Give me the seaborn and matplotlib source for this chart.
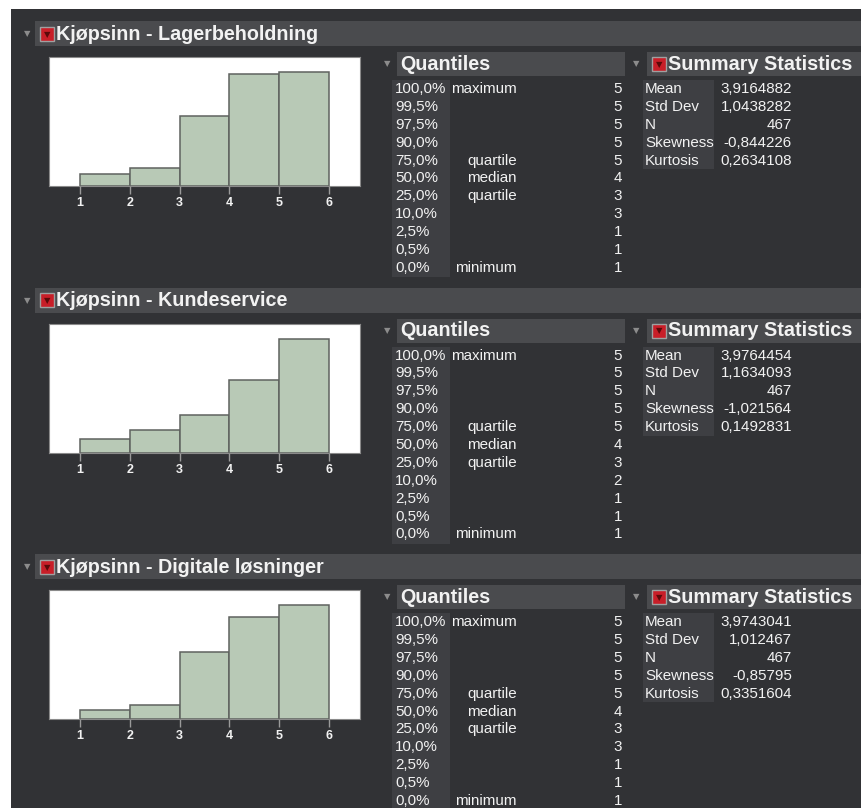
import matplotlib
matplotlib.use("Agg")
import matplotlib.pyplot as plt
from matplotlib.patches import Rectangle
import seaborn as sns
import pandas as pd

# ---------------- data ----------------
titles = ["Kjøpsinn - Lagerbeholdning", "Kjøpsinn - Kundeservice", "Kjøpsinn - Digitale løsninger"]
ratings = [1, 2, 3, 4, 5]
bin_edges = [1, 2, 3, 4, 5, 6]
counts_lager = [17, 26, 101, 160, 163]
counts_kunde = [24, 40, 68, 131, 204]
counts_digital = [14, 21, 102, 156, 174]

quantile_pcts = ["100,0%", "99,5%", "97,5%", "90,0%", "75,0%", "50,0%", "25,0%", "10,0%", "2,5%", "0,5%", "0,0%"]
quantile_names = ["maximum", "", "", "", "quartile", "median", "quartile", "", "", "", "minimum"]
quantiles_lager = [5, 5, 5, 5, 5, 4, 3, 3, 1, 1, 1]
quantiles_kunde = [5, 5, 5, 5, 5, 4, 3, 2, 1, 1, 1]
quantiles_digital = [5, 5, 5, 5, 5, 4, 3, 3, 1, 1, 1]

stat_names = ["Mean", "Std Dev", "N", "Skewness", "Kurtosis"]
stats_lager = ["3,9164882", "1,0438282", "467", "-0,844226", "0,2634108"]
stats_kunde = ["3,9764454", "1,1634093", "467", "-1,021564", "0,1492831"]
stats_digital = ["3,9743041", "1,012467", "467", "-0,85795", "0,3351604"]

all_counts = [counts_lager, counts_kunde, counts_digital]
all_quant = [quantiles_lager, quantiles_kunde, quantiles_digital]
all_stats = [stats_lager, stats_kunde, stats_digital]

# ---------------- style ----------------
sns.set_theme(style="white")
plt.rcParams["font.family"] = ["Liberation Sans", "DejaVu Sans"]

W, H = 862, 808
fig = plt.figure(figsize=(W / 100, H / 100), dpi=100)
fig.patch.set_facecolor("white")

BG = "#313235"
HDR = "#4a4b4e"
LBL = "#3e3f43"
TXT = "#f2f2f2"
TRI = "#8c8c8c"
BAR = "#b8c9b6"
HFS = 14.2   # header font size
RFS = 10.9   # row font size


def fx(x):
    return x / W


def fy(y):
    return 1 - y / H


def rect(x0, y0, x1, y1, color, z=-5, ec="none", lw=0):
    fig.patches.append(Rectangle((fx(x0), fy(y1)), (x1 - x0) / W, (y1 - y0) / H,
                                 transform=fig.transFigure, facecolor=color,
                                 edgecolor=ec, linewidth=lw, zorder=z))


def txt(x, y, s, **kw):
    kw.setdefault("color", TXT)
    kw.setdefault("va", "center")
    fig.text(fx(x), fy(y), s, zorder=5, **kw)


def icon(x, y):
    rect(x, y, x + 14, y + 14, "#c81e28", z=-1, ec="#a0a0a0", lw=1.0)
    txt(x + 7, y + 7.5, "▼", ha="center", fontsize=6, color="#5a0a0a", family="DejaVu Sans")


# dark panel
rect(11, 9, 862, 808, BG, z=-10)

ROW = 17.9
for p in range(3):
    o = 266.5 * p
    # header bar
    rect(35, 21 + o, 862, 46 + o, HDR)
    txt(27, 34 + o, "▼", ha="center", fontsize=6, color=TRI, family="DejaVu Sans")
    icon(40, 27 + o)
    txt(56, 34.5 + o, titles[p], ha="left", fontsize=HFS, fontweight="bold")

    # histogram
    ax = fig.add_axes([fx(49), fy(186 + o), (360 - 49) / W, 129 / H])
    df = pd.DataFrame({"rating": ratings, "count": all_counts[p]})
    sns.histplot(data=df, x="rating", weights="count", bins=bin_edges, ax=ax,
                 color=BAR, edgecolor="#5f625f", linewidth=1.1, alpha=1)
    ax.set_facecolor("white")
    ax.set_xlim(0.38, 6.62)
    ax.set_ylim(0, max(all_counts[p]) * 1.135)
    ax.set_xlabel("")
    ax.set_ylabel("")
    ax.set_yticks([])
    ax.set_xticks(bin_edges)
    ax.set_xticklabels([str(v) for v in bin_edges])
    ax.tick_params(axis="x", bottom=True, length=6, width=1, color="#9a9a9a",
                   pad=2, labelsize=9, labelcolor=TXT)
    for lab in ax.get_xticklabels():
        lab.set_fontweight("bold")
    for s in ax.spines.values():
        s.set_color("#8a8a8a")
        s.set_linewidth(0.8)

    # Quantiles
    txt(387, 64 + o, "▼", ha="center", fontsize=6, color=TRI, family="DejaVu Sans")
    rect(397, 52 + o, 625, 76 + o, HDR)
    txt(400, 64.5 + o, "Quantiles", ha="left", fontsize=HFS, fontweight="bold")
    rect(392, 80 + o, 450, 277 + o, LBL)
    for i in range(len(quantile_pcts)):
        y = 89 + ROW * i + o
        txt(395, y, quantile_pcts[i], ha="left", fontsize=RFS)
        if quantile_names[i]:
            txt(517, y, quantile_names[i], ha="right", fontsize=RFS)
        txt(622, y, str(all_quant[p][i]), ha="right", fontsize=RFS)

    # Summary statistics
    txt(636, 64 + o, "▼", ha="center", fontsize=6, color=TRI, family="DejaVu Sans")
    rect(647, 52 + o, 862, 76 + o, HDR)
    icon(652, 57 + o)
    txt(668, 64.5 + o, "Summary Statistics", ha="left", fontsize=HFS, fontweight="bold")
    rect(643, 80 + o, 714, 169 + o, LBL)
    for i in range(len(stat_names)):
        y = 89 + ROW * i + o
        txt(645, y, stat_names[i], ha="left", fontsize=RFS)
        txt(792, y, all_stats[p][i], ha="right", fontsize=RFS)

fig.savefig("out.png", dpi=100, facecolor=fig.get_facecolor())
